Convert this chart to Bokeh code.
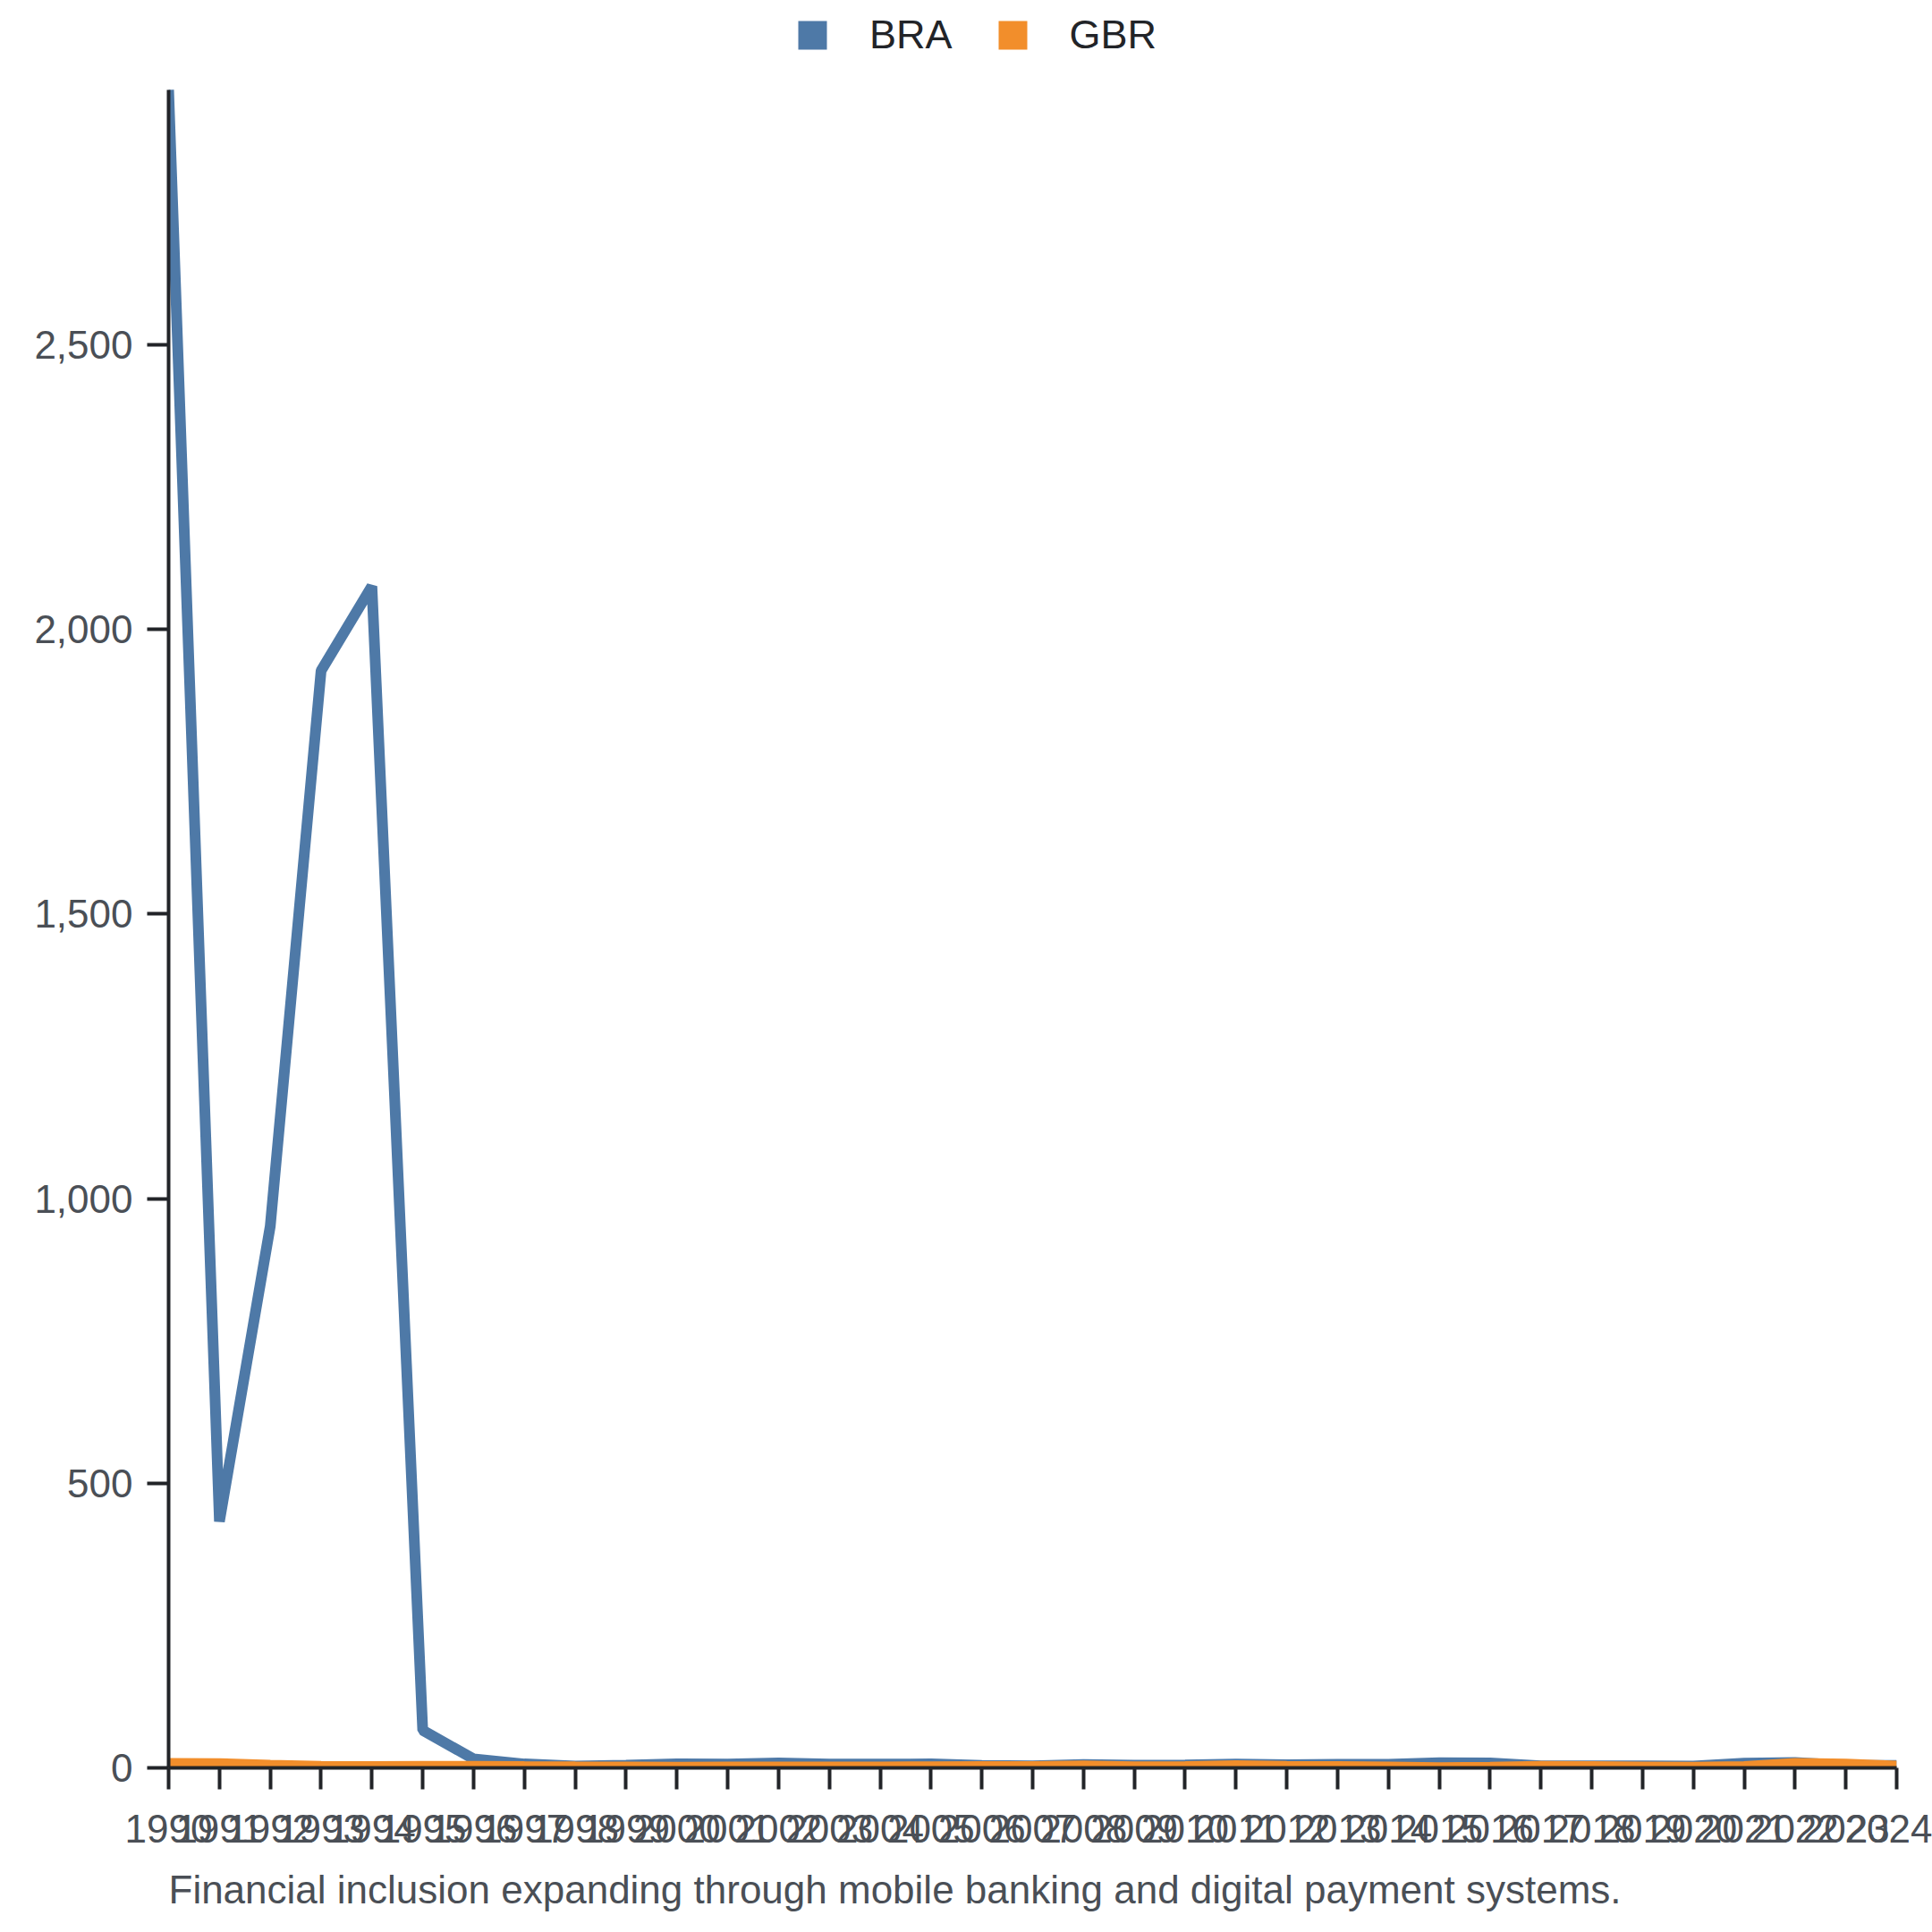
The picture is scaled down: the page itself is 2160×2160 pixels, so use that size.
from bokeh.plotting import figure
from bokeh.models import (Legend, LegendItem, Range1d, FixedTicker,
                          NumeralTickFormatter, Title, AllLabels)
from bokeh.embed import file_html
from bokeh.resources import INLINE

# ---- data ----
years = list(range(1990, 2025))
bra = [2947.7, 432.8, 951.6, 1927.4, 2075.8, 66.0, 15.8, 6.9, 3.2, 4.9,
       7.0, 6.8, 8.5, 6.5, 6.6, 6.9, 4.2, 3.6, 5.7, 4.9,
       5.0, 6.6, 5.4, 6.2, 6.3, 9.0, 8.7, 3.4, 3.7, 3.7,
       3.2, 8.3, 9.3, 4.6, 4.4]
gbr = [8.0, 7.5, 4.6, 2.6, 2.2, 2.7, 2.9, 2.2, 1.8, 1.7,
       1.2, 1.5, 1.5, 1.4, 1.4, 2.1, 2.5, 2.4, 3.5, 2.0,
       2.5, 3.9, 2.6, 2.3, 1.5, 0.4, 1.0, 2.6, 2.3, 1.7,
       1.0, 2.5, 7.9, 6.8, 3.3]
series_names = ["BRA", "GBR"]
series_colors = ["#4e79a7", "#f28e2b"]
y_ticks = [0, 500, 1000, 1500, 2000, 2500]
caption = "Financial inclusion expanding through mobile banking and digital payment systems."

FONT = "Liberation Sans"
GREY = "#4a4f56"
DARK = "#222428"
NAN = float("nan")

W, H = 2160, 2160
LEFT, RIGHT, BOTTOM = 188, 40, 184
HEADROOM = 100                       # px above the data maximum, holds the legend
frame_h = H - BOTTOM
y_max = max(bra)
y_end = y_max * frame_h / (frame_h - HEADROOM)

p = figure(width=W, height=H, output_backend="svg", toolbar_location=None,
           x_range=Range1d(years[0], years[-1]),
           y_range=Range1d(0, y_end),
           min_border_left=LEFT, min_border_right=RIGHT,
           min_border_top=0, min_border_bottom=BOTTOM)
p.outline_line_color = None
p.grid.visible = False

r_bra = p.line(years, bra, line_color=series_colors[0], line_width=12, line_join="bevel")
r_gbr = p.line(years, gbr, line_color=series_colors[1], line_width=12, line_join="bevel")

# legend swatches only (NaN geometry, never drawn in the frame)
s_bra = p.scatter(x=[NAN], y=[NAN], marker="square", size=32,
                  fill_color=series_colors[0], line_color=None)
s_gbr = p.scatter(x=[NAN], y=[NAN], marker="square", size=32,
                  fill_color=series_colors[1], line_color=None)

for ax in (p.xaxis, p.yaxis):
    ax.axis_line_color = DARK
    ax.axis_line_width = 4
    ax.major_tick_line_color = DARK
    ax.major_tick_line_width = 4
    ax.major_tick_out = 24
    ax.major_tick_in = 0
    ax.minor_tick_line_color = None
    ax.major_label_text_font = FONT
    ax.major_label_text_font_size = "44px"
    ax.major_label_text_color = GREY
    ax.major_label_policy = AllLabels()

p.xaxis.ticker = FixedTicker(ticks=years)
p.xaxis.major_label_standoff = 28
p.yaxis.ticker = FixedTicker(ticks=y_ticks)
p.yaxis.formatter = NumeralTickFormatter(format="0,0")
p.yaxis.major_label_standoff = 16
p.yaxis.bounds = (0, y_max)

legend = Legend(items=[LegendItem(label=series_names[0], renderers=[s_bra], index=0),
                       LegendItem(label=series_names[1], renderers=[s_gbr], index=0)],
                orientation="horizontal", location=(680, frame_h + 1.5 - 80),
                glyph_width=80, glyph_height=80, label_standoff=24, spacing=27,
                padding=0, margin=0, border_line_color=None,
                background_fill_alpha=0,
                label_text_font=FONT, label_text_font_size="45px",
                label_text_color=DARK)
p.add_layout(legend, "center")

p.add_layout(Title(text=caption, align="left", text_font=FONT,
                   text_font_size="44px", text_font_style="normal",
                   text_color=GREY, standoff=46, offset=0), "below")

open("out.html", "w").write(file_html(p, INLINE))
